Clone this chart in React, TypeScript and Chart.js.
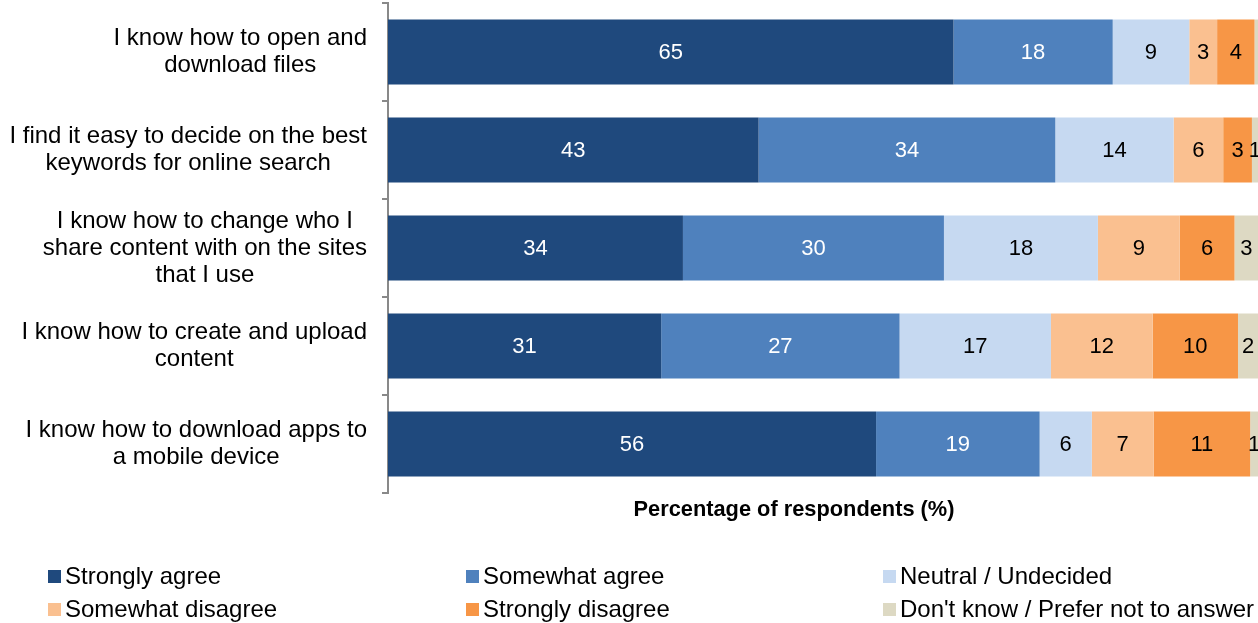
import React, { useEffect, useRef } from "react";
import { Chart, registerables } from "chart.js";

Chart.register(...registerables);

const categories: string[][] = [
  ["I know how to open and", "download files"],
  ["I find it easy to decide on the best", "keywords for online search"],
  ["I know how to change who I", "share content with on the sites", "that I use"],
  ["I know how to create and upload", "content"],
  ["I know how to download apps to", "a mobile device"],
];

const seriesNames = [
  "Strongly agree",
  "Somewhat agree",
  "Neutral / Undecided",
  "Somewhat disagree",
  "Strongly disagree",
  "Don't know / Prefer not to answer",
];

const stronglyAgree = [65.0, 42.6, 33.9, 31.4, 56.1];
const somewhatAgree = [18.3, 34.1, 30.0, 27.4, 18.8];
const neutral = [8.8, 13.6, 17.7, 17.4, 6.0];
const somewhatDisagree = [3.2, 5.7, 9.4, 11.7, 7.1];
const stronglyDisagree = [4.3, 3.3, 6.3, 9.8, 11.1];
const dontKnow = [0.4, 0.7, 2.7, 2.3, 0.9];

const seriesColors = ["#1F497D", "#4F81BD", "#C6D9F1", "#FAC090", "#F79646", "#DDD9C3"];
const labelColors = ["#FFFFFF", "#FFFFFF", "#000000", "#000000", "#000000", "#000000"];

const xAxisTitle = "Percentage of respondents (%)";

const FONT = "'Liberation Sans', Arial, sans-serif";
const W = 1258;
const H = 623;
const TICK_LEN = 6;
const LABEL_PAD = 15;
const LINE_H = 27;

export default function App() {
  const ref = useRef<HTMLCanvasElement | null>(null);

  useEffect(() => {
    if (!ref.current) return;
    const values = [stronglyAgree, somewhatAgree, neutral, somewhatDisagree, stronglyDisagree, dontKnow];

    const dataLabels = {
      id: "dataLabels",
      afterDatasetsDraw(chart: any) {
        const ctx = chart.ctx;
        ctx.save();
        ctx.font = `22px ${FONT}`;
        ctx.textAlign = "center";
        ctx.textBaseline = "middle";
        chart.data.datasets.forEach((ds: any, di: number) => {
          const meta = chart.getDatasetMeta(di);
          meta.data.forEach((el: any, i: number) => {
            const v = Math.round(ds.data[i]);
            if (v < 1) return;
            const cx = (el.x + el.base) / 2;
            ctx.fillStyle = labelColors[di];
            ctx.fillText(String(v), cx, el.y + 1);
          });
        });
        ctx.restore();
      },
    };

    const extras = {
      id: "extras",
      afterDraw(chart: any) {
        const ctx = chart.ctx;
        ctx.save();
        // category labels: each block right-aligned to the axis, lines centred within block
        const ys = chart.scales.y;
        ctx.font = `24px ${FONT}`;
        ctx.fillStyle = "#000";
        ctx.textAlign = "center";
        ctx.textBaseline = "middle";
        const rightEdge = ys.right - TICK_LEN - LABEL_PAD;
        categories.forEach((lines, i) => {
          const widest = Math.max(...lines.map((l) => ctx.measureText(l).width));
          const cx = rightEdge - widest / 2;
          const cy = ys.getPixelForTick(i);
          lines.forEach((line, j) => {
            ctx.fillText(line, cx, cy + (j - (lines.length - 1) / 2) * LINE_H);
          });
        });
        // axis title
        ctx.font = `bold 21.8px ${FONT}`;
        ctx.fillText(xAxisTitle, 794, 510);
        // legend (3 columns x 2 rows)
        const cols = [48, 466, 883];
        const rows = [577, 610];
        ctx.font = `24px ${FONT}`;
        ctx.textAlign = "left";
        seriesNames.forEach((name, i) => {
          const x = cols[i % 3];
          const y = rows[Math.floor(i / 3)];
          ctx.fillStyle = seriesColors[i];
          ctx.fillRect(x, y - 7, 13, 13);
          ctx.fillStyle = "#000";
          ctx.fillText(name, x + 17, y);
        });
        ctx.restore();
      },
    };

    const chart = new Chart(ref.current, {
      type: "bar",
      data: {
        labels: categories,
        datasets: seriesNames.map((name, i) => ({
          label: name,
          data: values[i],
          backgroundColor: seriesColors[i],
          borderWidth: 0,
          barPercentage: 1,
          categoryPercentage: 0.663,
        })),
      },
      options: {
        indexAxis: "y",
        responsive: false,
        animation: false,
        layout: { padding: { top: 3, right: 0, left: 0, bottom: 0 } },
        plugins: {
          legend: { display: false },
          tooltip: { enabled: false },
          title: { display: false },
        },
        scales: {
          x: {
            stacked: true,
            min: 0,
            max: 100,
            grid: { display: false },
            border: { display: false },
            ticks: { display: false },
            afterFit: (s: any) => {
              s.height = H - 493;
              s.paddingLeft = 0;
              s.paddingRight = 0;
            },
          },
          y: {
            stacked: true,
            grid: {
              offset: true,
              drawOnChartArea: false,
              drawTicks: true,
              tickLength: TICK_LEN,
              color: "#898989",
              lineWidth: 2,
            },
            border: { display: true, color: "#898989", width: 2 },
            ticks: { display: false, autoSkip: false },
            afterFit: (s: any) => {
              s.width = 388;
              s.paddingTop = 0;
              s.paddingBottom = 0;
            },
          },
        },
      },
      plugins: [dataLabels, extras],
    } as any);

    return () => chart.destroy();
  }, []);

  return (
    <div style={{ position: "fixed", left: 0, top: 0, width: W, height: H, background: "#fff" }}>
      <canvas ref={ref} width={W} height={H} style={{ display: "block", width: W, height: H }} />
    </div>
  );
}
